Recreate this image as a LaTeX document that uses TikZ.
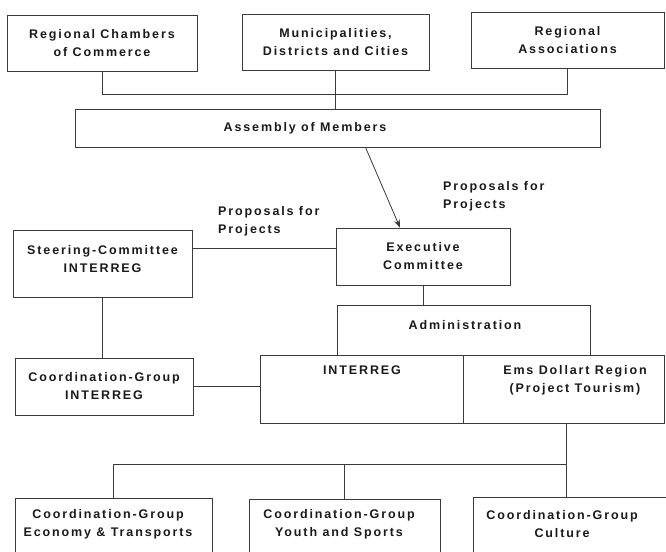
\documentclass[tikz,border=0pt]{standalone}
\usepackage{fontspec}
\setmainfont{Liberation Sans}
\newfontfamily\lblfont[LetterSpace=15]{Liberation Sans}
\usetikzlibrary{arrows.meta}
\definecolor{linec}{HTML}{3A3A3A}
\definecolor{textc}{HTML}{1A1A1A}
\begin{document}
\begin{tikzpicture}[x=1pt,y=-1pt,
  box/.style={draw=linec, line width=0.8pt, rectangle, inner sep=0pt},
  lbl/.style={font=\lblfont\bfseries\fontsize{12.5}{18}\selectfont, text=textc, align=center, inner sep=0pt},
  conn/.style={draw=linec, line width=0.8pt}]
\useasboundingbox (0,0) rectangle (666,551);
\fill[white] (0,0) rectangle (666,551);
\clip (0,0) rectangle (666,551);

% top row
\node[box, lbl, minimum width=190pt, minimum height=56pt] (rcc) at (102,43) {Regional Chambers\\of Commerce};
\node[box, lbl, minimum width=187pt, minimum height=56pt] (mun) at (335.5,42) {Municipalities,\\Districts and Cities};
\node[box, lbl, minimum width=193pt, minimum height=56pt] (ra) at (567.5,40) {Regional\\Associations};

% assembly
\node[box, minimum width=525pt, minimum height=38pt] (asm) at (337.5,128) {};
\node[lbl] (asmt) at (305,128) {Assembly of Members};

\draw[conn] (rcc.south) -- ++(0,23) -| (ra.south);
\draw[conn] (mun.south) -- (mun.south |- asm.north);

% executive
\node[box, lbl, minimum width=174pt, minimum height=57pt] (exec) at (423,256.5) {Executive\\Committee};
\draw[conn, -{Stealth[length=8pt,width=6pt]}] ([xshift=28pt]asm.south) -- ([xshift=-23pt]exec.north);

\node[lbl, align=left, anchor=west] (propR) at (443,196) {Proposals for\\Projects};
\node[lbl, align=left, anchor=west] (propL) at (218,221) {Proposals for\\Projects};

% steering
\node[box, minimum width=179pt, minimum height=67pt] (steer) at (102.5,263.5) {};
\node[lbl] (steert) at (102.5,259.5) {Steering-Committee\\INTERREG};
\draw[conn] ([yshift=8.5pt]exec.west) -- ([yshift=8.5pt]exec.west -| steer.east);

% coordination group interreg
\node[box, lbl, minimum width=178pt, minimum height=57pt] (cgi) at (104,386.5) {Coordination-Group\\INTERREG};
\draw[conn] (steer.south) -- (steer.south |- cgi.north);

% administration
\node[box, minimum width=253pt, minimum height=50pt] (adm) at (463.5,330) {};
\node[lbl] (admt) at (465,325) {Administration};
\draw[conn] (exec.south) -- (exec.south |- adm.north);

\node[box, minimum width=203pt, minimum height=68pt] (int) at (361.5,389) {};
\node[lbl] (intt) at (362,370) {INTERREG};
\node[box, minimum width=201pt, minimum height=68pt] (ems) at (563.5,389) {};
\node[lbl] (emst) at (575,380) {Ems Dollart Region\\(Project Tourism)};
\draw[conn] (cgi.east) -- (cgi.east -| int.west);

% bottom row
\node[box, minimum width=197pt, minimum height=74pt] (econ) at (113.5,535) {};
\node[lbl] (econt) at (108,524) {Coordination-Group\\Economy \& Transports};
\node[box, minimum width=191pt, minimum height=74pt] (youth) at (344.5,536) {};
\node[lbl] (youtht) at (339,524) {Coordination-Group\\Youth and Sports};
\node[box, minimum width=195pt, minimum height=74pt] (cult) at (570.5,534) {};
\node[lbl] (cultt) at (562,524) {Coordination-Group\\Culture};

\coordinate (j) at (566,464);
\draw[conn] (ems.south -| j) -- (cult.north -| j);
\draw[conn] (j) -| (econ.north);
\draw[conn] (youth.north |- j) -- (youth.north);
\end{tikzpicture}
\end{document}
